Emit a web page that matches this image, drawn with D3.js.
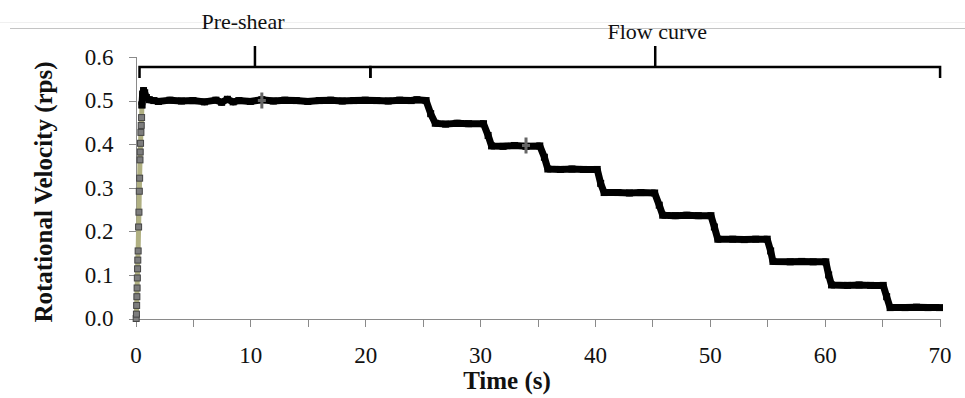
<!DOCTYPE html>
<html>
<head>
  <meta charset="utf-8">
  <title>Rotational velocity vs time</title>
  <script src="https://d3js.org/d3.v7.min.js"></script>
  <style>
    body {
      margin: 0;
      background: #fff;
    }
    svg text {
      font-family: "Liberation Serif", "Times New Roman", "DejaVu Serif", serif;
      fill: #111;
    }
    .axis path,
    .axis line {
      fill: none;
      stroke: #8a8a8a;
      shape-rendering: crispEdges;
    }
    .axis text {
      font-size: 23px;
    }
  </style>
</head>
<body>

<svg id="chart" width="965" height="398"></svg>

<script>
  // ramp at start (grey squares)
  const rampTime = [0.06, 0.08, 0.1, 0.12, 0.14, 0.16, 0.18, 0.2, 0.23, 0.27, 0.3, 0.33, 0.36, 0.39, 0.41, 0.44, 0.47, 0.5, 0.53, 0.56];
  const rampVel  = [0.0, 0.01, 0.03, 0.05, 0.07, 0.093, 0.114, 0.134, 0.155, 0.21, 0.244, 0.292, 0.322, 0.364, 0.382, 0.402, 0.427, 0.443, 0.461, 0.49];

  // measured velocity (black)
  const mainTime = [0.56, 0.62, 0.7, 0.8, 0.95, 1.2, 1.6, 2, 3, 4, 5, 6, 7, 7.5, 8, 8.5, 9, 10, 11, 12, 13, 14, 15, 16, 17, 18, 19, 20, 21, 22, 23, 24, 24.5,
    25.3, 25.7, 26.1, 27, 28, 29, 30.3, 30.7, 31, 32, 33, 34, 35.2, 35.6, 35.9, 37, 38, 39, 40.2, 40.5, 40.8, 42, 43, 44, 45.2, 45.6, 45.9,
    47, 48, 49, 50.1, 50.4, 50.7, 52, 53, 54, 55.0, 55.3, 55.5, 57, 58, 59, 60.1, 60.35, 60.6, 62, 63, 64, 65.1, 65.4, 65.7, 67, 68, 69, 70];
  const mainVel  = [0.49, 0.515, 0.523, 0.518, 0.507, 0.502, 0.5, 0.498, 0.501, 0.499, 0.5, 0.497, 0.501, 0.496, 0.503, 0.497, 0.5, 0.498, 0.502, 0.499, 0.501, 0.5, 0.498, 0.5, 0.501, 0.499, 0.5, 0.501, 0.5, 0.499, 0.501, 0.5, 0.502,
    0.5, 0.47, 0.448, 0.446, 0.448, 0.447, 0.447, 0.42, 0.396, 0.395, 0.397, 0.395, 0.396, 0.37, 0.343, 0.342, 0.343, 0.342, 0.342, 0.31, 0.289, 0.289, 0.288, 0.289, 0.288, 0.26, 0.237,
    0.236, 0.237, 0.236, 0.236, 0.21, 0.182, 0.182, 0.181, 0.182, 0.182, 0.155, 0.131, 0.13, 0.131, 0.13, 0.13, 0.1, 0.077, 0.076, 0.077, 0.076, 0.076, 0.05, 0.025, 0.025, 0.026, 0.025, 0.025];

  // odd grey "+" points
  const crossTime = [11.0, 34.0];
  const crossVel  = [0.5, 0.397];

  const xTicks = [0, 5, 10, 15, 20, 25, 30, 35, 40, 45, 50, 55, 60, 65, 70];
  const yTicks = [0, 0.1, 0.2, 0.3, 0.4, 0.5, 0.6];

  // brackets over the plot: [start, end] in seconds
  const bracketNames = ["Pre-shear", "Flow curve"];
  const bracketStart = [0.35, 20.45];
  const bracketEnd   = [20.45, 70.05];

  const svg = d3.select("#chart");

  const x = d3.scaleLinear().domain([0, 70]).range([135.5, 939.5]);
  const y = d3.scaleLinear().domain([0, 0.6]).range([318.5, 57]);

  // faint lines at top of picture
  svg.append("line").attr("x1", 0).attr("x2", 965).attr("y1", 22.5).attr("y2", 22.5)
    .attr("stroke", "#f0f0f0").attr("stroke-width", 1);
  svg.append("line").attr("x1", 10).attr("x2", 965).attr("y1", 28.5).attr("y2", 28.5)
    .attr("stroke", "#c4c4c4").attr("stroke-width", 1);

  // axes
  const xAxis = d3.axisBottom(x)
    .tickValues(xTicks)
    .tickSize(8)
    .tickPadding(20)
    .tickFormat(d => d % 10 === 0 ? d : "");
  svg.append("g")
    .attr("class", "axis")
    .attr("transform", `translate(0,${y(0)})`)
    .call(xAxis)
    .attr("font-family", null);

  const yAxis = d3.axisLeft(y)
    .tickValues(yTicks)
    .tickSize(7)
    .tickPadding(15)
    .tickFormat(d3.format(".1f"));
  svg.append("g")
    .attr("class", "axis")
    .attr("transform", `translate(${x(0)},0)`)
    .call(yAxis)
    .attr("font-family", null);

  // axis titles
  svg.append("text")
    .attr("x", 507)
    .attr("y", 389)
    .attr("text-anchor", "middle")
    .style("font-size", "25px")
    .style("font-weight", "bold")
    .text("Time (s)");

  svg.append("text")
    .attr("transform", "translate(52,192) rotate(-90)")
    .attr("text-anchor", "middle")
    .style("font-size", "25px")
    .style("font-weight", "bold")
    .text("Rotational Velocity (rps)");

  const ramp = rampTime.map((t, i) => ({ t: t, v: rampVel[i] }));
  const main = mainTime.map((t, i) => ({ t: t, v: mainVel[i] }));

  const lineGen = d3.line()
    .x(d => x(d.t))
    .y(d => y(d.v));

  // ramp series
  svg.append("path")
    .datum(ramp)
    .attr("fill", "none")
    .attr("stroke", "#b0b082")
    .attr("stroke-width", 5)
    .attr("d", lineGen);

  svg.selectAll(".ramp-pt")
    .data(ramp)
    .enter()
    .append("rect")
    .attr("class", "ramp-pt")
    .attr("x", d => x(d.t) - 3)
    .attr("y", d => y(d.v) - 3)
    .attr("width", 6)
    .attr("height", 6)
    .attr("fill", "#7d7d7d")
    .attr("stroke", "#444")
    .attr("stroke-width", 1);

  // main series
  svg.append("path")
    .datum(main)
    .attr("fill", "none")
    .attr("stroke", "#000")
    .attr("stroke-width", 7)
    .attr("stroke-linejoin", "round")
    .attr("d", lineGen);

  svg.selectAll(".main-pt")
    .data(main)
    .enter()
    .append("rect")
    .attr("class", "main-pt")
    .attr("x", d => x(d.t) - 3.5)
    .attr("y", d => y(d.v) - 3.5)
    .attr("width", 7)
    .attr("height", 7)
    .attr("fill", "#000");

  // grey crosses
  crossTime.forEach((t, i) => {
    const cx = x(t), cy = y(crossVel[i]);
    svg.append("path")
      .attr("d", `M${cx - 4},${cy}H${cx + 4}M${cx},${cy - 8}V${cy + 8}`)
      .attr("stroke", "#666")
      .attr("stroke-width", 3)
      .attr("fill", "none");
  });

  // brackets
  const barY = y(0.577), endY = y(0.552), tipY = y(0.625);
  bracketNames.forEach((name, i) => {
    const x0 = x(bracketStart[i]), x1 = x(bracketEnd[i]);
    const mid = (x0 + x1) / 2;
    svg.append("path")
      .attr("d", `M${x0},${endY}V${barY}H${x1}V${endY}M${mid},${barY}V${tipY}`)
      .attr("fill", "none")
      .attr("stroke", "#000")
      .attr("stroke-width", 2.5);

    svg.append("text")
      .attr("x", i === 0 ? mid - 12 : mid + 2)
      .attr("y", i === 0 ? 29 : 39)
      .attr("text-anchor", "middle")
      .style("font-size", "22px")
      .text(name);
  });
</script>
</body>
</html>
